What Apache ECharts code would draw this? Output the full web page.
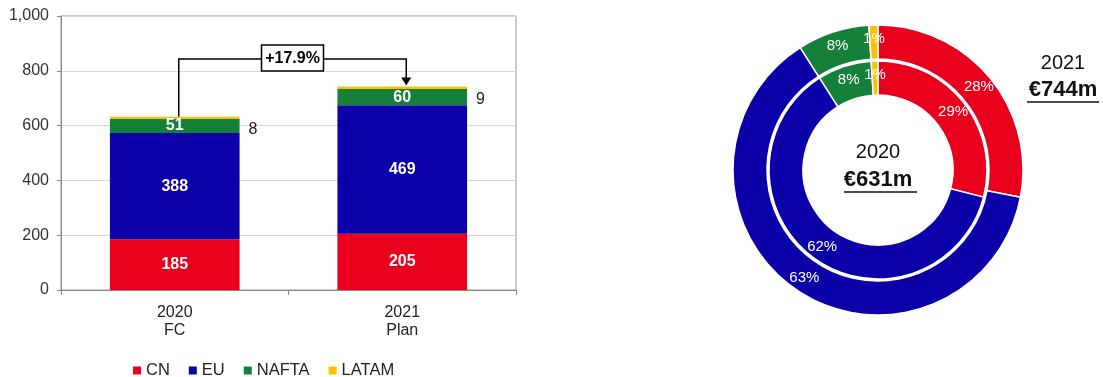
<!DOCTYPE html>
<html>
<head>
<meta charset="utf-8">
<script src="https://cdn.jsdelivr.net/npm/echarts@6/dist/echarts.min.js"></script>
<style>html,body{margin:0;padding:0;background:#fff}#main{width:1103px;height:377px}</style>
</head>
<body>
<div id="main"></div>
<script>
var categories = ['2020\nFC', '2021\nPlan'];
var regions = ['CN', 'EU', 'NAFTA', 'LATAM'];
var cnValues = [185, 205];
var euValues = [388, 469];
var naftaValues = [51, 60];
var latamValues = [8, 9];
var share2020 = [29, 62, 8, 1];
var share2021 = [28, 63, 8, 1];
var growthLabel = '+17.9%';
var bracketLevel = 843;
var total2020Label = '€631m';
var total2021Label = '€744m';

var colors = ['#e8001c', '#0c00a8', '#15803a', '#ffc000'];
var font = 'Arial, "Liberation Sans", sans-serif';

function barSeries(name, values, idx) {
    var inLabel = {
        show: true, position: 'inside', color: '#fff', fontWeight: 'bold',
        fontSize: 16, fontFamily: font
    };
    if (name == 'LATAM') {
        inLabel = {
            show: true, position: 'right', color: '#222', fontSize: 16,
            fontFamily: font, distance: 9, offset: [0, 12]
        };
    }
    return {
        name: name, type: 'bar', stack: 'total', barWidth: '57%',
        itemStyle: {color: colors[idx]},
        label: inLabel,
        data: values
    };
}

function pieSeries(shares, radius) {
    return {
        type: 'pie', center: [878, 170], radius: radius,
        startAngle: 90, clockwise: true, avoidLabelOverlap: false,
        silent: true,
        itemStyle: {borderColor: '#fff', borderWidth: 1.5},
        label: {position: 'inside', color: '#fff', fontSize: 15, fontFamily: font, formatter: '{c}%'},
        labelLine: {show: false},
        data: shares.map(function(v, i){
            return {name: regions[i], value: v, itemStyle: {color: colors[i]}};
        })
    };
}

var chart = echarts.init(document.getElementById('main'));
var option = {
    animation: false,
    textStyle: {fontFamily: font},
    legend: {
        data: regions, left: 128, top: 357, icon: 'rect',
        itemWidth: 8, itemHeight: 8, itemGap: 19,
        textStyle: {fontSize: 16.5, color: '#222', fontFamily: font}
    },
    grid: {
        left: 61, right: 587, top: 16, bottom: 87,
        show: true, borderColor: '#999', borderWidth: 1
    },
    xAxis: {
        type: 'category', data: categories,
        axisLine: {lineStyle: {color: '#888'}},
        axisTick: {show: true, length: 5, lineStyle: {color: '#888'}},
        axisLabel: {fontSize: 16, color: '#222', lineHeight: 18, margin: 14}
    },
    yAxis: {
        type: 'value', min: 0, max: 1000, interval: 200,
        axisLine: {show: true, lineStyle: {color: '#888'}},
        axisTick: {show: true, length: 4, lineStyle: {color: '#888'}},
        splitLine: {lineStyle: {color: '#d9d9d9'}},
        axisLabel: {
            fontSize: 16, color: '#333', margin: 12,
            formatter: function(v){ return v.toLocaleString('en-US'); }
        }
    },
    series: [
        barSeries('CN', cnValues, 0),
        barSeries('EU', euValues, 1),
        barSeries('NAFTA', naftaValues, 2),
        barSeries('LATAM', latamValues, 3),
        pieSeries(share2020, [75, 109]),
        pieSeries(share2021, [111, 145])
    ]
};
chart.setOption(option);

// growth bracket between the two bar tops
var total1 = cnValues[0] + euValues[0] + naftaValues[0] + latamValues[0];
var total2 = cnValues[1] + euValues[1] + naftaValues[1] + latamValues[1];
var p1 = chart.convertToPixel({gridIndex: 0}, [0, total1]);
var p2 = chart.convertToPixel({gridIndex: 0}, [1, total2]);
var yTop = chart.convertToPixel({gridIndex: 0}, [0, bracketLevel])[1];
var x1 = p1[0] + 4, x2 = p2[0] + 4;
var midX = (x1 + x2) / 2;

chart.setOption({
    graphic: [
        {
            type: 'polyline', silent: true,
            shape: {points: [[x1, p1[1]], [x1, yTop], [x2, yTop], [x2, p2[1] - 8]]},
            style: {stroke: '#000', lineWidth: 1.5, fill: null}
        },
        {
            type: 'polygon', silent: true,
            shape: {points: [[x2 - 5, p2[1] - 9], [x2 + 5, p2[1] - 9], [x2, p2[1] - 1]]},
            style: {fill: '#000'}
        },
        {
            type: 'rect', silent: true,
            shape: {x: midX - 31, y: yTop - 14, width: 62, height: 26},
            style: {fill: '#fff', stroke: '#000', lineWidth: 1.5}
        },
        {
            type: 'text', silent: true, x: midX, y: yTop,
            style: {text: growthLabel, fill: '#000', font: 'bold 16px ' + font, align: 'center', verticalAlign: 'middle'}
        },
        {
            type: 'text', silent: true, x: 878, y: 152,
            style: {text: '2020', fill: '#111', font: '20px ' + font, align: 'center', verticalAlign: 'middle'}
        },
        {
            type: 'text', silent: true, x: 878, y: 180,
            style: {text: total2020Label, fill: '#111', font: 'bold 22px ' + font, align: 'center', verticalAlign: 'middle'}
        },
        {
            type: 'line', silent: true,
            shape: {x1: 844, y1: 192, x2: 917, y2: 192},
            style: {stroke: '#111', lineWidth: 1.5}
        },
        {
            type: 'text', silent: true, x: 1063, y: 63,
            style: {text: '2021', fill: '#111', font: '20px ' + font, align: 'center', verticalAlign: 'middle'}
        },
        {
            type: 'text', silent: true, x: 1063, y: 90,
            style: {text: total2021Label, fill: '#111', font: 'bold 22px ' + font, align: 'center', verticalAlign: 'middle'}
        },
        {
            type: 'line', silent: true,
            shape: {x1: 1027, y1: 102, x2: 1099, y2: 102},
            style: {stroke: '#111', lineWidth: 1.5}
        }
    ]
});
</script>
</body>
</html>
